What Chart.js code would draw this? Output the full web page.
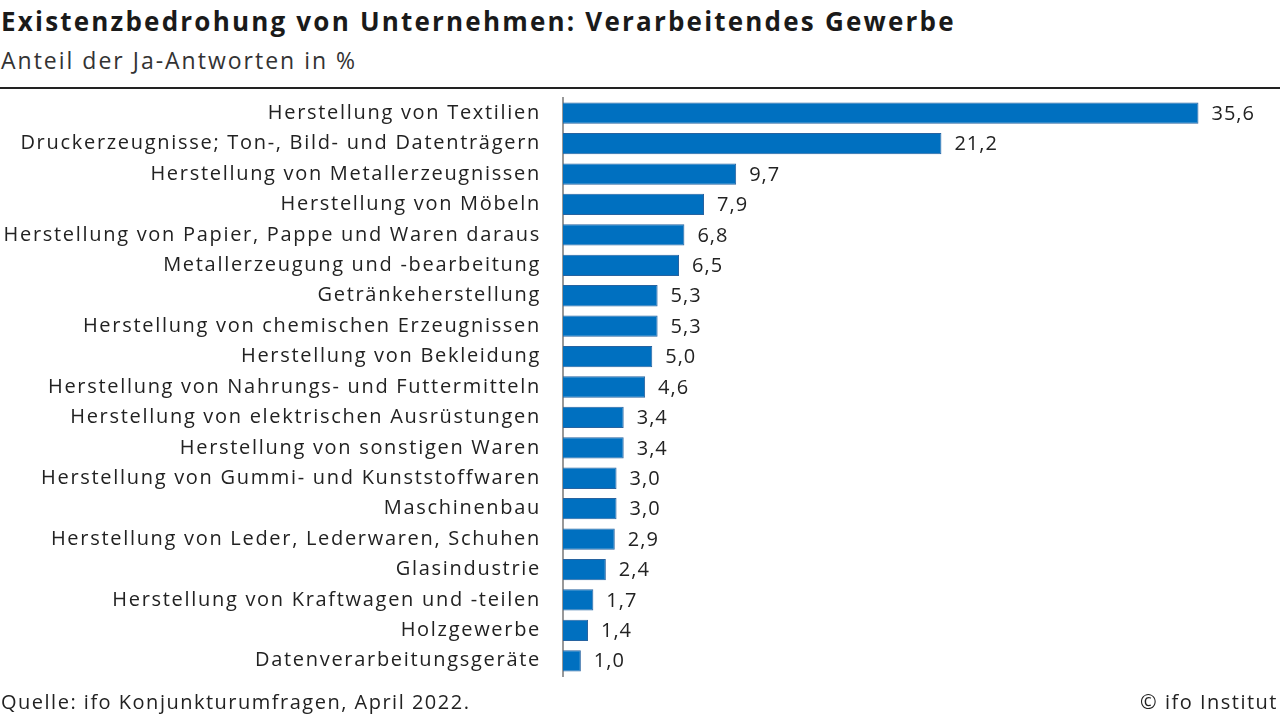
<!DOCTYPE html>
<html>
<head>
<meta charset="utf-8">
<script src="https://cdn.jsdelivr.net/npm/chart.js@4"></script>
<style>
  body { margin: 0; width: 1280px; height: 720px; background: #fff; font-family: "Open Sans", sans-serif; color: #1a1a1a; position: relative; overflow: hidden; }
  #title { position: absolute; left: 1px; top: 3px; font-size: 26px; font-weight: bold; letter-spacing: 2.2px; white-space: nowrap; }
  #subtitle { position: absolute; left: 1px; top: 44px; font-size: 23px; color: #333; letter-spacing: 2px; }
  #rule { position: absolute; left: 0; top: 87px; width: 1280px; height: 2px; background: #222; }
  #chartBox { position: absolute; left: 0; top: 64px; width: 1280px; height: 646px; }
  #source { position: absolute; left: 1px; top: 688px; font-size: 20px; color: #222; letter-spacing: 1.5px; }
  #copy { position: absolute; right: 2px; top: 688px; font-size: 20px; color: #222; letter-spacing: 1.5px; }
</style>
</head>
<body>
<div id="title">Existenzbedrohung von Unternehmen: Verarbeitendes Gewerbe</div>
<div id="subtitle">Anteil der Ja-Antworten in %</div>
<div id="rule"></div>
<div id="chartBox"><canvas id="barChart"></canvas></div>
<div id="source">Quelle: ifo Konjunkturumfragen, April 2022.</div>
<div id="copy">© ifo Institut</div>
<script>
  const categories = [
    'Herstellung von Textilien',
    'Druckerzeugnisse; Ton-, Bild- und Datenträgern',
    'Herstellung von Metallerzeugnissen',
    'Herstellung von Möbeln',
    'Herstellung von Papier, Pappe und Waren daraus',
    'Metallerzeugung und -bearbeitung',
    'Getränkeherstellung',
    'Herstellung von chemischen Erzeugnissen',
    'Herstellung von Bekleidung',
    'Herstellung von Nahrungs- und Futtermitteln',
    'Herstellung von elektrischen Ausrüstungen',
    'Herstellung von sonstigen Waren',
    'Herstellung von Gummi- und Kunststoffwaren',
    'Maschinenbau',
    'Herstellung von Leder, Lederwaren, Schuhen',
    'Glasindustrie',
    'Herstellung von Kraftwagen und -teilen',
    'Holzgewerbe',
    'Datenverarbeitungsgeräte'
  ];
  const shares = [35.6, 21.2, 9.7, 7.9, 6.8, 6.5, 5.3, 5.3, 5.0, 4.6, 3.4, 3.4, 3.0, 3.0, 2.9, 2.4, 1.7, 1.4, 1.0];

  // wider spacing for the axis labels
  const spacing = {
    id: 'spacing',
    beforeDraw(chart) {
      chart.ctx.letterSpacing = '1.7px';
    }
  };

  // writes the value next to each bar, German decimal comma
  const valueLabels = {
    id: 'valueLabels',
    afterDatasetsDraw(chart) {
      const ctx = chart.ctx;
      const meta = chart.getDatasetMeta(0);
      ctx.save();
      ctx.font = '20px "Open Sans"';
      ctx.letterSpacing = '1px';
      ctx.fillStyle = '#222';
      ctx.textBaseline = 'middle';
      meta.data.forEach(function(bar, i) {
        ctx.fillText(shares[i].toFixed(1).replace('.', ','), bar.x + 13, bar.y + 1);
      });
      ctx.restore();
    }
  };

  const config = {
    type: 'bar',
    data: {
      labels: categories,
      datasets: [{
        data: shares,
        backgroundColor: '#0070c0',
        borderColor: '#2763a0',
        borderWidth: 1,
        barPercentage: 0.7,
        categoryPercentage: 1.0
      }]
    },
    options: {
      indexAxis: 'y',
      responsive: true,
      maintainAspectRatio: false,
      animation: false,
      layout: { padding: { top: 0, bottom: 0, right: 3, left: 0 } },
      plugins: {
        legend: { display: false },
        tooltip: { enabled: false }
      },
      scales: {
        x: {
          display: false,
          min: 0,
          max: 40
        },
        y: {
          grid: { display: false, drawTicks: false },
          border: { display: true, color: '#999', width: 2 },
          ticks: {
            padding: 22,
            color: '#222',
            font: { family: 'Open Sans', size: 20 }
          },
          afterFit: function(scale) { scale.width = 563; }
        }
      }
    },
    plugins: [spacing, valueLabels]
  };

  window.onload = function() {
    const ctx = document.getElementById('barChart').getContext('2d');
    new Chart(ctx, config);
  };
</script>
</body>
</html>
